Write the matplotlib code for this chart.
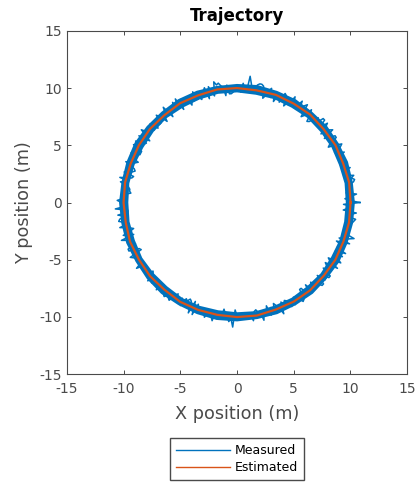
import numpy as np
import matplotlib.pyplot as plt

# measured radius (m), sampled every 1 degree starting at angle 0
meas_r = [
    10.85, 9.92, 9.53, 10.05, 10.57, 9.66, 10.18, 10.05, 9.79, 10.05,
    10.44, 10.57, 10.31, 10.57, 9.79, 9.66, 9.79, 10.44, 9.92, 10.18,
    9.66, 10.18, 9.92, 9.79, 9.79, 10.44, 9.79, 9.66, 10.31, 10.57,
    10.05, 9.40, 9.66, 10.44, 10.44, 9.92, 9.53, 10.57, 10.31, 9.53,
    10.18, 10.57, 9.79, 10.57, 10.57, 9.79, 10.31, 10.05, 9.53, 9.40,
    10.05, 10.44, 9.66, 9.40, 10.57, 10.31, 9.92, 10.57, 9.92, 9.92,
    10.05, 10.57, 9.66, 9.79, 9.40, 10.31, 10.44, 9.53, 10.18, 9.92,
    9.40, 10.18, 9.66, 10.44, 10.18, 9.66, 9.40, 10.44, 10.57, 10.57,
    10.44, 10.18, 9.66, 10.44, 11.10, 9.79, 9.92, 10.44, 9.66, 10.05,
    9.79, 9.92, 9.66, 9.53, 9.53, 10.31, 9.40, 10.18, 10.31, 10.57,
    10.44, 10.75, 9.53, 9.92, 10.44, 9.40, 10.44, 10.18, 10.05, 9.53,
    9.79, 9.66, 10.44, 9.66, 9.79, 9.40, 10.18, 10.18, 9.92, 10.31,
    9.40, 10.57, 9.79, 10.44, 9.92, 9.92, 10.18, 9.40, 10.57, 10.05,
    10.05, 9.40, 10.05, 10.44, 9.66, 9.66, 9.79, 9.53, 10.31, 9.66,
    10.05, 9.79, 10.05, 10.57, 9.92, 9.40, 10.44, 9.53, 9.66, 10.44,
    9.92, 10.44, 9.53, 9.53, 9.53, 10.31, 9.92, 10.05, 9.40, 9.66,
    10.44, 9.92, 9.53, 9.40, 9.66, 10.31, 9.40, 9.53, 10.57, 9.79,
    10.44, 10.05, 9.66, 9.53, 9.53, 9.40, 10.05, 10.05, 10.05, 10.57,
    10.18, 9.92, 9.92, 10.75, 9.66, 9.66, 10.57, 9.92, 10.44, 10.57,
    10.05, 9.92, 10.57, 9.79, 9.40, 9.79, 10.44, 9.53, 10.72, 10.18,
    9.92, 9.92, 9.66, 10.44, 10.44, 9.53, 9.40, 10.57, 10.31, 10.05,
    10.18, 10.18, 10.05, 10.57, 9.79, 9.79, 9.92, 9.92, 10.18, 9.53,
    9.66, 10.44, 9.92, 10.31, 10.05, 10.18, 9.92, 10.44, 9.66, 9.79,
    9.79, 10.31, 10.44, 10.18, 10.31, 10.44, 9.79, 9.53, 10.18, 10.05,
    9.66, 10.31, 9.53, 9.66, 9.40, 9.53, 10.57, 9.40, 10.57, 9.53,
    9.92, 10.05, 10.18, 9.92, 10.44, 10.05, 10.18, 10.18, 10.57, 9.66,
    9.79, 9.92, 10.18, 9.40, 9.79, 9.92, 10.44, 10.18, 10.90, 9.40,
    9.92, 10.05, 9.92, 9.79, 9.66, 10.18, 10.18, 9.92, 10.44, 9.66,
    9.53, 9.79, 9.79, 10.57, 9.79, 10.18, 9.40, 10.31, 9.66, 10.18,
    9.40, 9.66, 9.92, 10.57, 9.53, 9.92, 9.53, 9.66, 10.31, 9.79,
    10.31, 9.66, 9.92, 10.05, 10.44, 10.31, 9.40, 9.40, 10.18, 10.18,
    9.40, 10.18, 9.79, 9.53, 10.05, 10.05, 10.44, 10.44, 9.53, 10.31,
    9.92, 10.44, 10.44, 9.53, 10.05, 9.66, 9.40, 10.57, 9.66, 9.40,
    10.57, 10.18, 9.66, 10.44, 9.66, 10.57, 9.66, 10.05, 9.92, 9.40,
    10.57, 9.53, 10.31, 10.80, 10.05, 9.79, 10.18, 9.92, 9.79, 10.18,
    10.31, 10.44, 10.57, 9.66, 10.05, 10.57, 9.40, 9.79, 10.18, 9.40,
]
meas_step_deg = 1

# dense part of the measured band: outer / inner radius every 10 degrees
band_outer = [
    10.40, 10.37, 10.42, 10.36, 10.39, 10.34, 10.41, 10.38, 10.43,
    10.37, 10.35, 10.40, 10.42, 10.36, 10.39, 10.44, 10.38, 10.35,
    10.41, 10.37, 10.40, 10.34, 10.39, 10.42, 10.36, 10.38, 10.43,
    10.40, 10.35, 10.39, 10.37, 10.41, 10.36, 10.42, 10.38, 10.40,
]
band_inner = [
    9.60, 9.64, 9.58, 9.63, 9.61, 9.66, 9.59, 9.62, 9.57,
    9.63, 9.65, 9.60, 9.58, 9.64, 9.61, 9.56, 9.62, 9.65,
    9.59, 9.63, 9.60, 9.66, 9.61, 9.58, 9.64, 9.62, 9.57,
    9.60, 9.65, 9.61, 9.63, 9.59, 9.64, 9.58, 9.62, 9.60,
]
band_step_deg = 10

# estimated radius (m), sampled every 10 degrees starting at angle 0
est_r = [
    10.02, 10.05, 9.97, 10.03, 9.98, 10.04, 9.99, 10.02, 9.96,
    10.01, 10.04, 9.98, 10.03, 9.97, 10.02, 10.00, 9.98, 10.03,
    10.01, 9.97, 10.04, 9.99, 10.02, 9.96, 10.03, 10.00, 9.98,
    10.02, 10.04, 9.97, 10.01, 10.03, 9.98, 10.02, 9.99, 10.04,
]
est_step_deg = 10

ticks = [-15, -10, -5, 0, 5, 10, 15]


def closed(r, step):
    a = np.deg2rad(np.arange(len(r) + 1) * step)
    rr = np.append(r, r[0])
    return rr * np.cos(a), rr * np.sin(a)


plt.rcParams['font.family'] = 'DejaVu Sans'
plt.rcParams['axes.unicode_minus'] = False
plt.rcParams['path.simplify'] = False
fig = plt.figure(figsize=(4.18, 4.87), dpi=100)
ax = fig.add_axes([67 / 418, 1 - 374 / 487, 340 / 418, 343 / 487])

ox, oy = closed(band_outer, band_step_deg)
ix, iy = closed(band_inner, band_step_deg)
ax.fill(np.concatenate([ox, ix[::-1]]), np.concatenate([oy, iy[::-1]]),
        color='#0072BD', lw=0)
mx, my = closed(meas_r, meas_step_deg)
ax.plot(mx, my, color='#0072BD', lw=1.1, label='Measured')
ex, ey = closed(est_r, est_step_deg)
ax.plot(ex, ey, color='#D95319', lw=1.6, label='Estimated')

ax.set_xlim(-15, 15)
ax.set_ylim(-15, 15)
ax.set_xticks(ticks)
ax.set_yticks(ticks)
ax.tick_params(direction='in', top=True, right=True, length=3, labelsize=10,
               colors='#4a4a4a', width=0.7)
ax.tick_params(axis='x', pad=6)
for s in ax.spines.values():
    s.set_color('#4a4a4a')
    s.set_linewidth(0.8)
ax.set_xlabel('X position (m)', fontsize=12.7, color='#4a4a4a', labelpad=6)
ax.set_ylabel('Y position (m)', fontsize=12.7, color='#4a4a4a', labelpad=5)
ax.set_title('Trajectory', fontsize=12, fontweight='bold', pad=7.5)

leg = ax.legend(loc='upper center', bbox_to_anchor=(0.5, -0.187), borderaxespad=0,
                fontsize=9, fancybox=False, edgecolor='#4a4a4a', handlelength=4.3,
                borderpad=0.5, labelspacing=0.3, handletextpad=0.4, framealpha=1)
for line in leg.get_lines():
    line.set_linewidth(1.0)

fig.savefig('out.png', dpi=100)
